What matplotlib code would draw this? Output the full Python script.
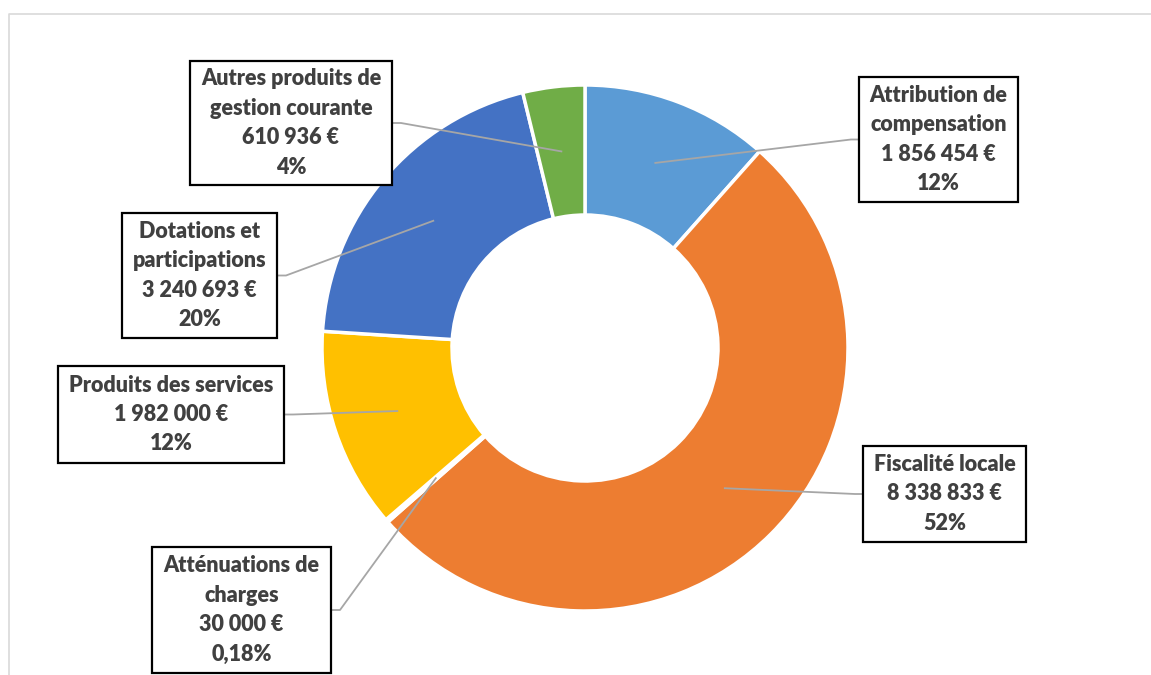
import numpy as np
import matplotlib.pyplot as plt

# Données du graphique
categories = ["Attribution de\ncompensation", "Fiscalité locale", "Atténuations de\ncharges",
              "Produits des services", "Dotations et\nparticipations",
              "Autres produits de\ngestion courante"]
montants = [1856454, 8338833, 30000, 1982000, 3240693, 610936]
montants_txt = ["1 856 454 €", "8 338 833 €", "30 000 €", "1 982 000 €", "3 240 693 €", "610 936 €"]
pourcents = ["12%", "52%", "0,18%", "12%", "20%", "4%"]
couleurs = ["#5B9BD5", "#ED7D31", "#A5A5A5", "#FFC000", "#4472C4", "#70AD47"]

W, H = 1151, 675
# boîtes des étiquettes (x0, haut, x1, bas) en pixels, et côté d'attache
boites = [(859, 77, 1018, 202, "g"), (863, 446, 1026, 542, "g"), (152, 547, 331, 673, "d"),
          (58, 366, 284, 463, "d"), (122, 213, 277, 338, "d"), (190, 61, 392, 185, "d")]

cx, cy, R, ep = 585, H - 348, 263, 130

fig = plt.figure(figsize=(W / 100, H / 100), dpi=100)
ax = fig.add_axes([0, 0, 1, 1])
wedges, _ = ax.pie(montants, colors=couleurs, startangle=90, counterclock=False,
                   radius=R, center=(cx, cy),
                   wedgeprops=dict(width=ep, edgecolor="white", linewidth=2.5))
ax.set_xlim(0, W)
ax.set_ylim(0, H)
ax.set_aspect("equal")
ax.axis("off")

# bordure du cadre
ax.plot([9.5, 9.5, W], [0, H - 14, H - 14], color="#D9D9D9", lw=1.2)

for w, cat, mt, pc, (x0, y0, x1, y1, cote) in zip(wedges, categories, montants_txt, pourcents, boites):
    a = np.deg2rad((w.theta1 + w.theta2) / 2)
    rm = R - ep / 2
    axx, ayy = cx + rm * np.cos(a), cy + rm * np.sin(a)
    ym = H - (y0 + y1) / 2
    if cote == "g":
        bx, stub = x0, x0 - 8
    else:
        bx, stub = x1, x1 + 9
    ax.plot([bx, stub, axx], [ym, ym, ayy], color="#A6A6A6", lw=1.3, zorder=3)
    ax.add_patch(plt.Rectangle((x0, H - y1), x1 - x0, y1 - y0, facecolor="white",
                               edgecolor="black", lw=1.6, zorder=4))
    ax.text((x0 + x1) / 2, ym, cat + "\n" + mt + "\n" + pc, ha="center", va="center",
            fontsize=15.5, fontweight="heavy", color="#404040", family="Lato",
            linespacing=1.5, zorder=5)

fig.savefig("out.png", dpi=100)
